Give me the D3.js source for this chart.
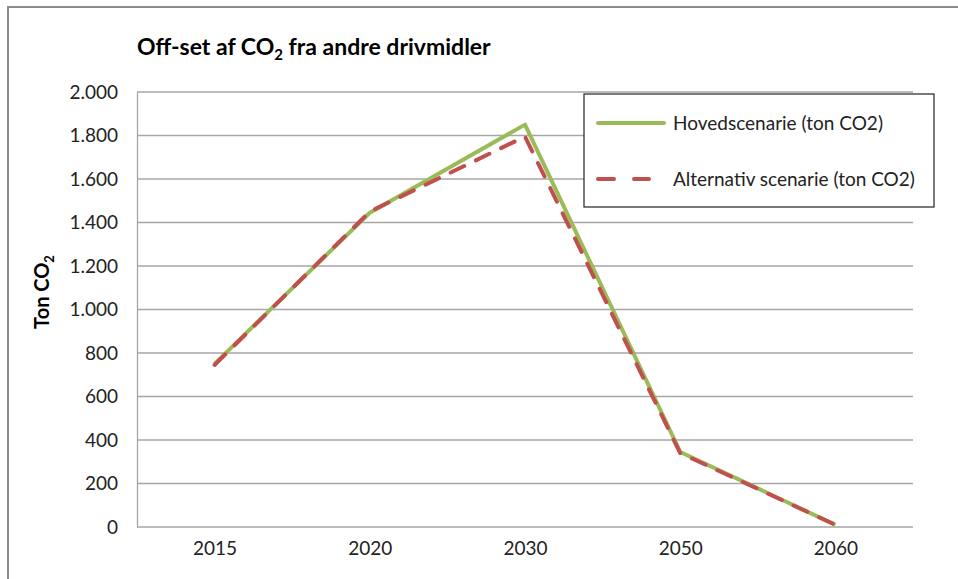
<!DOCTYPE html>
<html>
<head>
<meta charset="utf-8">
<script src="https://cdn.jsdelivr.net/npm/d3@7"></script>
<style>
  html, body { margin: 0; padding: 0; background: #fff; }
  svg { display: block; font-family: Lato, "Open Sans", sans-serif; }
</style>
</head>
<body>
<svg id="chart" width="958" height="579"></svg>
<script>
// Offset of CO2 from other fuels, by year
const years = ["2015", "2020", "2030", "2050", "2060"];
const hovedscenarie = [750, 1445, 1850, 345, 10];
const alternativScenarie = [745, 1450, 1795, 340, 10];
const yTicks = [0, 200, 400, 600, 800, 1000, 1200, 1400, 1600, 1800, 2000];
const seriesNames = ["Hovedscenarie (ton CO2)", "Alternativ scenarie (ton CO2)"];

const svg = d3.select("#chart");
const W = 958, H = 579;
const m = { left: 137, right: 45, top: 92, bottom: 52 };
const FONT = "Lato, 'Open Sans', sans-serif";

// Outer chart frame
svg.append("rect")
  .attr("x", 8).attr("y", 7).attr("width", W + 10).attr("height", H + 10)
  .attr("fill", "#fff").attr("stroke", "#8c8c8c").attr("stroke-width", 2);

const x = d3.scalePoint().domain(years).range([m.left, W - m.right]).padding(0.5);
const y = d3.scaleLinear().domain([0, 2000]).range([H - m.bottom, m.top]);

const fmt = v => d3.format(",")(v).replace(/,/g, ".");

// Horizontal gridlines
svg.append("g").selectAll("line").data(yTicks.filter(d => d > 0)).join("line")
  .attr("x1", m.left).attr("x2", W - m.right)
  .attr("y1", d => y(d)).attr("y2", d => y(d))
  .attr("stroke", "#a6a6a6").attr("stroke-width", 1.3);

// Y axis
const yAxis = svg.append("g").attr("transform", `translate(${m.left},0)`)
  .call(d3.axisLeft(y).tickValues(yTicks).tickFormat(fmt).tickSize(0).tickPadding(19));
yAxis.select(".domain").attr("stroke", "#a6a6a6").attr("stroke-width", 1.3);
yAxis.selectAll("text").attr("font-size", 19).attr("fill", "#222").attr("font-family", FONT);

// X axis
const xAxis = svg.append("g").attr("transform", `translate(0,${H - m.bottom})`)
  .call(d3.axisBottom(x).tickSize(0).tickPadding(15));
xAxis.select(".domain").attr("d", `M${m.left},0H${W - m.right}`)
  .attr("stroke", "#a6a6a6").attr("stroke-width", 1.3);
xAxis.selectAll("text").attr("font-size", 19).attr("fill", "#222").attr("font-family", FONT);

const line = d3.line().x((d, i) => x(years[i])).y(d => y(d));

svg.append("path").datum(hovedscenarie)
  .attr("d", line).attr("fill", "none")
  .attr("stroke", "#9bbb59").attr("stroke-width", 4).attr("stroke-linejoin", "round");

svg.append("path").datum(alternativScenarie)
  .attr("d", line).attr("fill", "none")
  .attr("stroke", "#c0504d").attr("stroke-width", 4)
  .attr("stroke-dasharray", "15,13").attr("stroke-linecap", "round");

// Title
const title = svg.append("text").attr("x", 137).attr("y", 55)
  .attr("font-size", 23).attr("font-weight", "bold").attr("fill", "#000");
title.append("tspan").text("Off-set af CO");
title.append("tspan").text("2").attr("font-size", 15).attr("dy", 5);
title.append("tspan").text(" fra andre drivmidler").attr("dy", -5);

// Y axis title
const yt = svg.append("text")
  .attr("transform", "translate(49,292) rotate(-90)")
  .attr("text-anchor", "middle").attr("font-size", 20).attr("font-weight", "bold").attr("fill", "#000");
yt.append("tspan").text("Ton CO");
yt.append("tspan").text("2").attr("font-size", 13).attr("dy", 5);

// Legend
const lg = svg.append("g");
lg.append("rect").attr("x", 584).attr("y", 94).attr("width", 350).attr("height", 113)
  .attr("fill", "#fff").attr("stroke", "#222").attr("stroke-width", 1.2);
const legendRows = [
  { name: seriesNames[0], color: "#9bbb59", dash: null, x2: 664, cy: 123 },
  { name: seriesNames[1], color: "#c0504d", dash: "16,20", x2: 649, cy: 179 }
];
legendRows.forEach(r => {
  const l = lg.append("line").attr("x1", 598).attr("x2", r.x2)
    .attr("y1", r.cy).attr("y2", r.cy)
    .attr("stroke", r.color).attr("stroke-width", 4).attr("stroke-linecap", "round");
  if (r.dash) l.attr("stroke-dasharray", r.dash);
  lg.append("text").attr("x", 673).attr("y", r.cy).attr("dy", "0.35em")
    .attr("font-size", 19).attr("fill", "#222").text(r.name);
});
</script>
</body>
</html>
